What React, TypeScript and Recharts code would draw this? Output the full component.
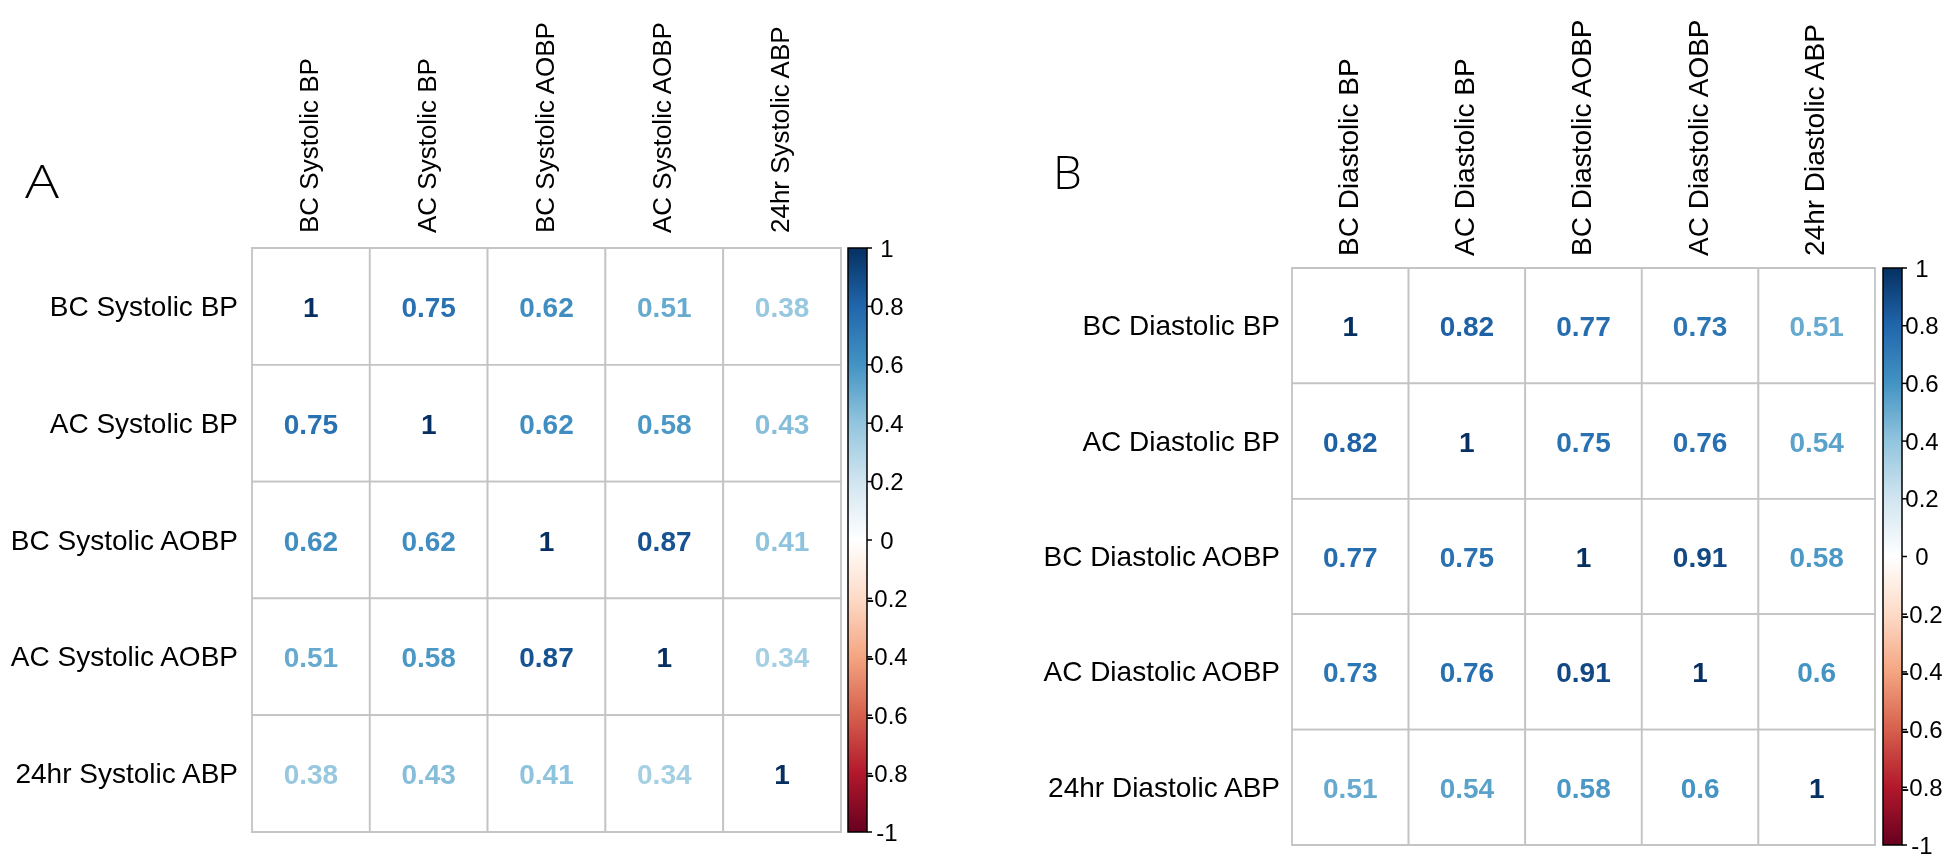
import React from "react";
import { ScatterChart, Scatter, XAxis, YAxis, ReferenceArea } from "recharts";

// ---------- data ----------
const LABELS_A = ["BC Systolic BP", "AC Systolic BP", "BC Systolic AOBP", "AC Systolic AOBP", "24hr Systolic ABP"];
const LABELS_B = ["BC Diastolic BP", "AC Diastolic BP", "BC Diastolic AOBP", "AC Diastolic AOBP", "24hr Diastolic ABP"];

const CORR_A = [
  [1, 0.75, 0.62, 0.51, 0.38],
  [0.75, 1, 0.62, 0.58, 0.43],
  [0.62, 0.62, 1, 0.87, 0.41],
  [0.51, 0.58, 0.87, 1, 0.34],
  [0.38, 0.43, 0.41, 0.34, 1],
];
const CORR_B = [
  [1, 0.82, 0.77, 0.73, 0.51],
  [0.82, 1, 0.75, 0.76, 0.54],
  [0.77, 0.75, 1, 0.91, 0.58],
  [0.73, 0.76, 0.91, 1, 0.6],
  [0.51, 0.54, 0.58, 0.6, 1],
];
const COLORBAR_TICKS = [-1, -0.8, -0.6, -0.4, -0.2, 0, 0.2, 0.4, 0.6, 0.8, 1];
const CELL_TICKS = [0.5, 1.5, 2.5, 3.5, 4.5];

// corrplot RdBu palette (value -1 .. 1)
const PALETTE = ["#67001F", "#B2182B", "#D6604D", "#F4A582", "#FDDBC7", "#FFFFFF", "#D1E5F0", "#92C5DE", "#4393C3", "#2166AC", "#053061"];

function hex2rgb(h: string) {
  return [parseInt(h.slice(1, 3), 16), parseInt(h.slice(3, 5), 16), parseInt(h.slice(5, 7), 16)];
}
function colorFor(v: number) {
  const t = ((v + 1) / 2) * 10;
  const i = Math.min(9, Math.max(0, Math.floor(t)));
  const f = t - i;
  const a = hex2rgb(PALETTE[i]);
  const b = hex2rgb(PALETTE[i + 1]);
  const c = a.map((x, k) => Math.round(x + (b[k] - x) * f));
  return `rgb(${c[0]},${c[1]},${c[2]})`;
}

const FONT = "'Liberation Sans', Arial, sans-serif";

type PanelProps = {
  labels: string[];
  corr: number[][];
  left: number;
  width: number;
  height: number;
  plotLeft: number;
  plotTop: number;
  gridRight: number;
  barLeft: number;
  barRight: number;
  plotBottom: number;
  rightAxisW: number;
  colLabelGap: number;
  rowLabelGap: number;
  colFont: number;
  rowFont: number;
};

function Panel(p: PanelProps) {
  const cellW = (p.gridRight - p.plotLeft) / 5;
  const xMax = 5 + (p.barRight - p.gridRight) / cellW;
  const barX1 = 5 + (p.barLeft - p.gridRight) / cellW;
  const data: { x: number; y: number; v: number }[] = [];
  p.corr.forEach((row, i) => row.forEach((v, j) => data.push({ x: j + 0.5, y: i + 0.5, v })));
  const cbData = COLORBAR_TICKS.map((t) => ({ x: xMax, y: t }));

  const XTick = (props: any) => {
    const { x, y, payload } = props;
    const idx = Math.round(payload.value - 0.5);
    return (
      <text
        x={x - 2}
        y={y}
        transform={`rotate(-90 ${x - 2} ${y})`}
        textAnchor="start"
        dominantBaseline="central"
        fontSize={p.colFont}
        fontFamily={FONT}
        fill="#000"
      >
        {p.labels[idx]}
      </text>
    );
  };
  const YTick = (props: any) => {
    const { x, y, payload } = props;
    const idx = Math.round(payload.value - 0.5);
    return (
      <text x={x} y={y} textAnchor="end" dominantBaseline="central" fontSize={p.rowFont} fontFamily={FONT} fill="#000">
        {p.labels[idx]}
      </text>
    );
  };
  // colorbar tick mark + label, placed by the colorbar axis scale
  const CbShape = (props: any) => {
    const { cx, cy, payload } = props;
    return (
      <g>
        <line x1={cx} x2={cx + 5} y1={cy} y2={cy} stroke="#000" strokeWidth={1.5} />
        <text
          x={cx + 20}
          y={cy}
          textAnchor="middle"
          dominantBaseline="central"
          fontSize={24}
          fontFamily={FONT}
          fill="#000"
        >
          {String(payload.y)}
        </text>
      </g>
    );
  };
  const NumShape = (props: any) => {
    const { cx, cy, payload } = props;
    return (
      <text
        x={cx}
        y={cy + 1}
        textAnchor="middle"
        dominantBaseline="central"
        fontSize={28}
        fontWeight="bold"
        fontFamily={FONT}
        fill={colorFor(payload.v)}
      >
        {String(payload.v)}
      </text>
    );
  };

  return (
    <div style={{ position: "absolute", left: p.left, top: 0 }}>
      <ScatterChart
        width={p.width}
        height={p.height}
        margin={{ top: 0, left: 0, right: p.width - p.barRight - p.rightAxisW, bottom: p.height - p.plotBottom }}
      >
        <XAxis
          xAxisId="m"
          type="number"
          dataKey="x"
          domain={[0, xMax]}
          ticks={CELL_TICKS}
          interval={0}
          orientation="top"
          height={p.plotTop}
          axisLine={false}
          tickLine={false}
          tickSize={0}
          tickMargin={p.colLabelGap}
          tick={XTick}
        />
        <YAxis
          yAxisId="m"
          type="number"
          dataKey="y"
          domain={[0, 5]}
          reversed
          ticks={CELL_TICKS}
          interval={0}
          width={p.plotLeft}
          axisLine={false}
          tickLine={false}
          tickSize={0}
          tickMargin={p.rowLabelGap}
          tick={YTick}
        />
        <YAxis
          yAxisId="cb"
          type="number"
          dataKey="y"
          orientation="right"
          domain={[-1, 1]}
          ticks={COLORBAR_TICKS}
          interval={0}
          width={p.rightAxisW}
          axisLine={false}
          tickLine={false}
          tick={false}
        />
        {p.corr.map((row, i) =>
          row.map((_, j) => (
            <ReferenceArea
              key={`c${i}-${j}`}
              xAxisId="m"
              yAxisId="m"
              x1={j}
              x2={j + 1}
              y1={i}
              y2={i + 1}
              fill="#FFFFFF"
              fillOpacity={1}
              stroke="#C4C4C4"
              strokeWidth={1.8}
              ifOverflow="visible"
            />
          ))
        )}
        <ReferenceArea
          xAxisId="m"
          yAxisId="cb"
          x1={barX1}
          x2={xMax}
          y1={-1}
          y2={1}
          fill="url(#cbgrad)"
          fillOpacity={1}
          stroke="#000"
          strokeWidth={1.5}
          ifOverflow="visible"
        />
        <Scatter xAxisId="m" yAxisId="cb" data={cbData} shape={CbShape} isAnimationActive={false} />
        <Scatter xAxisId="m" yAxisId="m" data={data} shape={NumShape} isAnimationActive={false} />
      </ScatterChart>
    </div>
  );
}

export default function App() {
  return (
    <div style={{ position: "relative", width: 1946, height: 858 }}>
      <svg width={1946} height={858} style={{ position: "fixed", left: 0, top: 0, pointerEvents: "none", zIndex: 2 }}>
        <defs>
          <linearGradient id="cbgrad" x1="0" y1="0" x2="0" y2="1">
            {PALETTE.slice()
              .reverse()
              .map((c, i) => (
                <stop key={i} offset={`${i * 10}%`} stopColor={c} />
              ))}
          </linearGradient>
        </defs>
        <text
          x={25}
          y={198}
          fontSize={46}
          fontWeight={300}
          fontFamily="'Open Sans', sans-serif"
          fill="#000"
          textLength={34}
          lengthAdjust="spacingAndGlyphs"
        >
          A
        </text>
        <text x={1053} y={189} fontSize={46} fontWeight={300} fontFamily="'Open Sans', sans-serif" fill="#000">
          B
        </text>
      </svg>
      <div style={{ position: "fixed", left: 0, top: 0, width: 1946, height: 858 }}>
        <Panel
          labels={LABELS_A}
          corr={CORR_A}
          left={0}
          width={973}
          height={858}
          plotLeft={252}
          plotTop={248}
          gridRight={841}
          barLeft={848}
          barRight={867}
          plotBottom={832}
          rightAxisW={60}
          colLabelGap={15}
          rowLabelGap={14}
          colFont={26}
          rowFont={28}
        />
        <Panel
          labels={LABELS_B}
          corr={CORR_B}
          left={973}
          width={973}
          height={858}
          plotLeft={1292 - 973}
          plotTop={268}
          gridRight={1875 - 973}
          barLeft={1883 - 973}
          barRight={1902 - 973}
          plotBottom={845}
          rightAxisW={44}
          colLabelGap={12}
          rowLabelGap={12}
          colFont={28}
          rowFont={28}
        />
      </div>
    </div>
  );
}
